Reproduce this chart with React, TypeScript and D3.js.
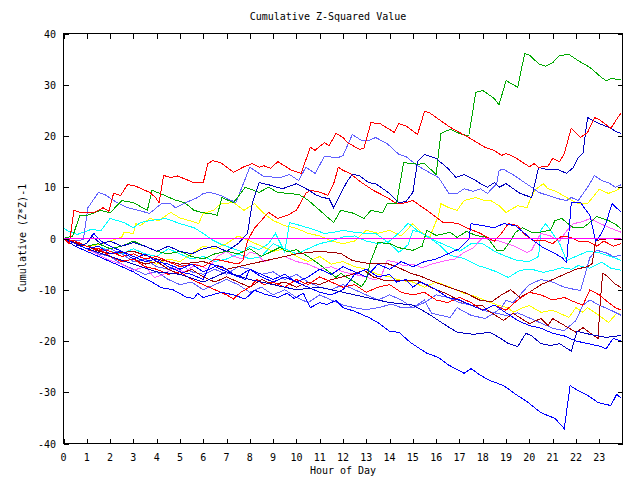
import React from 'react';
import * as d3 from 'd3';

type P = [number, number];

const title = 'Cumulative Z-Squared Value';
const xTitle = 'Hour of Day';
const yTitle = 'Cumulative (Z*Z)-1';
const xTicks = d3.range(0, 24);
const yTicks = [-40, -30, -20, -10, 0, 10, 20, 30, 40];

const greenTop: P[] = [[0,0],[0.4,0.5],[0.7,4.5],[1.0,4.5],[1.6,5.5],[2.0,5.0],[2.5,7.4],[3.0,7.0],[3.6,5.5],[3.8,9.4],[4.3,8.5],[4.8,7.5],[5.2,7.0],[5.6,5.5],[6.0,5.0],[6.3,4.9],[6.6,4.5],[6.8,8.0],[7.3,7.0],[7.8,10.0],[8.4,9.0],[8.8,10.0],[9.2,9.0],[10.1,8.6],[10.5,7.5],[11.0,5.5],[11.6,3.1],[11.9,5.5],[12.4,5.0],[12.9,3.9],[13.2,5.5],[13.7,5.0],[13.9,6.8],[14.3,6.8],[14.6,14.8],[15.2,14.5],[15.5,14.6],[16.0,12.5],[16.2,20.5],[16.6,21.3],[17.0,20.5],[17.4,20.0],[17.7,28.5],[18.0,28.9],[18.5,27.3],[18.7,26.1],[19.0,30.8],[19.5,29.5],[19.8,36.1],[20.0,35.8],[20.4,34.1],[20.7,33.6],[21.0,34.3],[21.3,35.7],[21.7,35.9],[22.1,34.7],[22.6,33.4],[23.1,31.4],[23.3,30.8],[23.5,31.2],[23.95,31]];
const redTop: P[] = [[0,0],[0.25,-1],[0.45,5.5],[0.8,5],[1.3,5],[1.7,6],[1.95,5.3],[2.15,8.8],[2.45,8.4],[2.75,10.5],[3.05,10.3],[3.3,9.8],[3.7,9.0],[3.95,8.0],[4.1,7.0],[4.3,12.3],[4.6,11.9],[4.9,12.2],[5.6,10.9],[6.0,10.9],[6.2,14.6],[6.4,15.2],[6.75,14.8],[7.3,12.9],[7.7,13.9],[8.1,14.6],[8.4,13.9],[8.6,14.2],[8.9,13.7],[9.2,15.0],[9.8,13.3],[10.2,12.7],[10.6,17.8],[10.8,17.2],[11.2,18.7],[11.4,18.1],[11.7,20.5],[12.0,19.7],[12.2,18.7],[12.7,17.4],[12.9,17.6],[13.2,22.6],[13.6,22.4],[14.2,20.7],[14.4,22.4],[14.7,22.0],[15.2,20.3],[15.5,24.8],[15.7,24.6],[16.0,23.6],[16.6,21.7],[17.4,19.7],[18.1,17.8],[18.5,17.2],[18.8,16.2],[19.0,16.6],[19.4,15.8],[20.0,14.0],[20.2,14.6],[20.4,13.9],[20.8,14.1],[21.0,15.6],[21.3,15.0],[21.5,16.6],[21.8,21.5],[22.2,19.7],[22.5,20.7],[22.8,23.6],[23.0,23.2],[23.5,21.5],[23.8,23.6],[23.95,24.6]];
const blueTop: P[] = [[0,0],[0.5,-1.5],[1.0,-1],[1.2,0.5],[1.6,-1.0],[2.0,-0.5],[2.5,-1.5],[3.0,-0.8],[3.5,-1.5],[4.0,-2.5],[4.5,-1.5],[5.0,-2.5],[5.5,-3],[6.0,-2],[6.5,-1.5],[7.0,-2.5],[7.5,-1],[7.9,1.0],[8.1,6.8],[8.4,10.9],[8.8,10.5],[9.4,9.7],[9.7,10.2],[10.0,10.7],[10.5,9.5],[10.8,8.6],[11.1,8.0],[11.4,7.8],[11.6,6.0],[11.9,8.8],[12.2,11.3],[12.4,12.5],[12.7,12.3],[13.1,10.9],[13.4,10.7],[14.0,8.8],[14.2,7.8],[14.4,7.0],[14.7,7.2],[15.0,9.0],[15.2,15.0],[15.5,16.4],[16.0,15.6],[16.5,13.7],[16.85,11.9],[17.2,12.5],[17.6,11.6],[17.9,10.7],[18.2,10.0],[18.5,10.9],[18.7,10.0],[19.0,10.7],[19.6,8.8],[20.1,8.0],[20.4,13.9],[20.8,13.4],[21.2,13.5],[21.6,12.7],[21.9,13.9],[22.1,15.8],[22.3,16.6],[22.5,23.6],[22.9,22.6],[23.4,21.7],[23.8,20.7],[23.95,20.5]];
const lightBlueTop: P[] = [[0,0],[0.5,-0.5],[0.85,-0.2],[1.05,6],[1.5,9],[1.8,8.5],[2.15,7.4],[2.75,6],[3.2,5.5],[3.7,4.9],[4.2,6.8],[4.6,6.8],[4.8,6.0],[5.45,7.4],[5.76,8.0],[6.0,8.8],[6.3,9.0],[6.75,8.4],[7.4,7.0],[8.0,13.9],[8.6,12.1],[9.3,11.9],[9.7,12.5],[10.1,11.3],[10.4,13.9],[10.8,12.7],[11.2,16.0],[11.8,15.8],[12.0,16.2],[12.4,20.3],[12.8,19.1],[13.1,19.1],[13.4,19.7],[13.9,18.5],[14.4,16.4],[14.7,16.0],[15.2,14.2],[15.7,12.9],[16.1,11.9],[16.55,8.8],[16.9,8.8],[17.2,9.7],[17.6,9.2],[17.9,9.7],[18.2,8.8],[18.6,10.7],[18.7,13.3],[18.9,13.5],[19.35,12.3],[19.8,10.9],[20.1,10.0],[20.4,9.0],[20.8,8.4],[21.2,7.8],[21.6,7.4],[21.8,8.0],[22.1,7.4],[22.5,10.0],[22.8,12.3],[23.1,11.3],[23.4,10.9],[23.7,10.0],[23.95,10.5]];
const yellowUpper: P[] = [[0,0],[0.5,-1],[1,-1.5],[1.5,-1.2],[2.0,-0.5],[2.5,0.3],[2.6,1.2],[3.0,1.0],[3.1,2.9],[3.3,2.5],[3.7,3.9],[4.1,3.5],[4.6,5.1],[5.0,4.0],[5.4,3.5],[5.8,2.9],[6.0,4.9],[6.45,5.5],[6.75,6.8],[7.3,7.0],[7.75,5.5],[8.2,6.8],[8.55,5.1],[9.0,3.5],[9.5,2.5],[10.0,2.0],[10.5,1.0],[11.0,0.5],[11.5,-0.5],[12.0,-1.0],[12.5,-0.5],[13.0,1.6],[13.5,1.0],[14.0,1.6],[14.5,0.5],[15.0,2.9],[15.3,1.5],[15.7,0],[16.1,4.5],[16.2,6.8],[16.55,6.0],[16.9,5.5],[17.2,7.4],[17.7,8.0],[18.0,7.5],[18.35,7.4],[18.7,6.4],[19.0,5.1],[19.5,6.4],[19.9,6.0],[20.1,8.4],[20.3,9.7],[20.6,10.7],[20.8,9.7],[21.1,9.3],[21.6,8.0],[22.1,6.8],[22.5,6.8],[23.0,9.6],[23.4,8.8],[23.7,9.3],[23.95,10]];
const bottomBlue: P[] = [[0,0],[0.5,-1.5],[1,-2.5],[1.5,-3.5],[2,-4.5],[2.5,-5.5],[3.0,-6.5],[3.4,-7.6],[3.8,-8.5],[4.2,-9.6],[4.7,-10],[5.3,-11.5],[5.6,-11.7],[5.75,-10.7],[6.0,-11.5],[6.3,-11.1],[6.8,-10.5],[7.3,-11],[7.8,-11.8],[8.2,-10.1],[8.6,-10.8],[9.2,-11.5],[9.6,-10.7],[9.9,-11.7],[10.3,-10.7],[10.6,-13.5],[11.0,-12.5],[11.3,-12.9],[11.7,-12.1],[12.0,-13.5],[12.5,-14.2],[13.1,-15.4],[13.5,-16.4],[14.0,-18.1],[14.4,-18.3],[14.9,-20.3],[15.6,-22.4],[16.1,-23.2],[16.5,-24.6],[17.2,-26.3],[17.5,-25.4],[17.9,-26.7],[18.3,-27.7],[18.9,-28.7],[19.35,-30.2],[19.95,-32],[20.5,-34],[21.1,-35.1],[21.5,-37.1],[21.75,-28.7],[21.95,-29.3],[22.5,-30.6],[22.95,-32],[23.5,-32.6],[23.75,-30.4],[23.95,-31.2]];
const blueB: P[] = [[0,0],[1,-2],[2,-3.5],[3,-5],[4,-6.5],[5,-7],[6,-8.5],[7,-6.5],[8,-8],[9,-9],[10,-10],[11,-9.5],[12,-10.5],[13,-11.5],[14,-12.5],[15,-13],[15.6,-14.5],[16.3,-16.6],[16.9,-18.3],[17.6,-18.7],[18.3,-18.3],[18.7,-19.3],[19.1,-20.5],[19.5,-21.1],[19.85,-18.5],[20.1,-19],[20.5,-20.5],[20.9,-20.9],[21.3,-20.5],[21.8,-22],[22.05,-18.1],[22.6,-18.7],[23.3,-19.3],[23.95,-18.9]];
const blueE: P[] = [[0,0],[0.5,-1.5],[1,-1],[1.3,1],[1.6,-0.5],[2,-1.5],[2.5,-2.5],[3,-3.5],[3.5,-4.5],[4,-4],[4.5,-5.5],[5,-6.5],[5.5,-7],[6,-8],[6.3,-5],[6.8,-5.5],[7.3,-7],[7.8,-8],[8,-6],[8.5,-7.5],[9,-8.5],[9.5,-7.5],[10,-8.5],[10.5,-9.5],[11,-10.5],[11.5,-11],[12,-10],[12.5,-7],[13,-6],[13.5,-7.5],[14,-7],[14.3,-8.5],[14.7,-8],[15,-9.5],[15.3,-8.5],[15.6,-9],[16,-10],[16.5,-11.5],[17,-12],[17.5,-13],[18,-14],[18.5,-13],[19,-14.5],[19.5,-16],[20,-17],[20.5,-17.5],[21,-18.5],[21.5,-19],[22,-20],[22.5,-20.5],[23,-21],[23.3,-21.5],[23.6,-19.5],[23.95,-20]];
const blueMid: P[] = [[0,0],[0.5,-1],[1,-2],[1.5,-1.5],[2,-3],[2.5,-2.5],[3,-4],[3.5,-3],[4,-4.5],[4.5,-5],[5,-6],[5.5,-5],[6,-6.5],[6.5,-5.5],[7,-6.5],[7.5,-7.5],[8,-6],[8.5,-7],[9,-8],[9.5,-7],[10,-8.5],[10.5,-7.5],[11,-6],[11.5,-7],[12,-5.5],[12.5,-6.5],[13,-7.5],[13.5,-5],[14,-6],[14.5,-4.5],[15,-5.5],[15.5,-4.5],[16,-4],[16.5,-3],[17,-2],[17.4,-0.2],[17.5,2.9],[18,2.5],[18.5,2.1],[18.9,2.9],[19.4,2.5],[19.8,1],[20.2,-0.5],[20.6,-1.8],[21,-2.7],[21.4,-3.7],[21.6,-4.7],[21.8,7.0],[22.2,7.0],[22.6,4.5],[22.85,-0.5],[23.1,1],[23.3,3.1],[23.55,6.8],[23.95,5.1]];
const darkRedJump: P[] = [[0,0],[0.5,-1],[1,-1.5],[1.5,-2.5],[2,-3],[2.5,-2.5],[3,-4],[3.5,-5],[4,-4.5],[4.5,-6],[5,-7],[5.5,-6],[6,-7.5],[6.5,-8.5],[7,-7.5],[7.5,-8.5],[8,-9.5],[8.5,-8],[9,-9],[9.5,-8.5],[10,-9.5],[10.5,-8.5],[11,-9],[11.5,-8],[11.9,-7.6],[12.4,-7],[12.9,-6.2],[13.3,-7.5],[13.8,-8.2],[14.5,-8.2],[15.2,-8.2],[15.8,-9.6],[16.4,-10.7],[17,-12.1],[17.5,-13],[18,-13.1],[18.2,-14],[18.9,-16],[19.3,-14.6],[20,-16.6],[20.5,-15.6],[20.8,-17],[21,-15.6],[22,-18.3],[22.3,-17.4],[22.75,-18.9],[22.95,-19.5],[23.05,-12],[23.15,-6.8],[23.3,-7.2],[23.65,-8.8],[23.95,-9.6]];
const darkRed2: P[] = [[0,0],[1,-1.5],[2,-3],[3,-2.5],[4,-4],[5,-5],[6,-4.5],[7,-6],[8,-5],[9,-4],[10,-3],[11,-2.5],[11.9,-2.9],[12.4,-4.3],[13,-4.8],[13.9,-4.9],[14.3,-5.5],[14.9,-6.8],[15.3,-7.3],[16.0,-8.6],[16.6,-9.6],[17.3,-10.7],[17.9,-12.1],[18.4,-12.3],[18.8,-11],[19.2,-10],[19.6,-11.5],[20,-10.5],[20.5,-9],[21,-8],[21.5,-7],[22,-6],[22.5,-5.5],[22.7,-4.9],[22.85,-0.4],[23.1,-0.2],[23.5,0],[23.95,-0.3]];
const yellowLower: P[] = [[0,0],[0.5,-1],[1,-2],[1.5,-1.5],[2,-2.5],[2.5,-3.5],[3,-3],[3.5,-4],[4,-5],[4.5,-4],[5,-4.5],[5.5,-3],[6,-1.5],[6.5,-2],[7,-1],[7.5,0.5],[8,-0.5],[8.5,-1.5],[9,-2.5],[9.5,-2],[10,-3.5],[10.5,-4.5],[11,-3.5],[11.5,-5],[12,-4.5],[12.5,-5.5],[13,-6],[13.5,-7],[14,-7.5],[14.5,-8.2],[15,-8.5],[15.5,-9.5],[16,-8.5],[16.6,-9.5],[17.2,-10.7],[17.7,-11.3],[18.1,-12.1],[18.7,-13.1],[19.1,-13.5],[19.3,-14.4],[19.7,-13.5],[20,-13.1],[20.5,-14.4],[21,-14],[21.7,-15.4],[22,-13.5],[22.3,-14.4],[22.5,-13.5],[23,-15],[23.4,-16.4],[23.75,-14.6],[23.95,-14.8]];
const greenMid: P[] = [[0,0],[0.5,-0.8],[1,-1.5],[1.5,-1],[2,-2],[2.5,-1.5],[3,-0.5],[3.5,-1.5],[4,-2.5],[4.5,-3],[5,-2.5],[5.5,-3.5],[6,-4],[6.5,-3],[7,-2.5],[7.5,-3],[8,-2],[8.5,-3.5],[9.3,-1.7],[9.6,-2.6],[10.0,-2.2],[10.5,-3.5],[11.0,-5.1],[11.7,-7.6],[11.9,-6.8],[12.4,-8.2],[12.8,-9.4],[13.0,-8],[13.2,-4.3],[13.5,-0.8],[14.0,-1],[14.4,-1.8],[15.0,-2.3],[15.4,-1.5],[15.6,1.6],[16.0,0.6],[16.6,1.2],[16.9,0.2],[17.3,1.4],[17.7,0.6],[18.2,0.2],[18.6,-2.3],[18.9,-2.3],[19.2,-0.4],[19.4,1.2],[19.7,2.1],[20.1,1.2],[20.4,1.2],[20.9,1.6],[21.1,3.5],[21.4,3.9],[21.6,3.1],[21.9,2.1],[22.3,2.1],[22.7,3.5],[22.9,4.3],[23.4,3.5],[23.7,2.8],[23.95,1.8]];
const cyanA: P[] = [[0,2],[0.3,1.2],[0.6,0.8],[1.2,1.8],[1.6,1.5],[2.0,3.9],[2.6,3.1],[3.0,2.1],[3.3,3.1],[3.7,3.5],[4.4,3.9],[5.0,2.9],[5.6,2.1],[6.0,1.0],[6.4,-0.3],[6.8,-1.2],[7.3,-2],[7.7,-2.6],[8.0,-1.5],[8.4,-2.2],[8.8,-1],[9.1,1],[9.3,-0.8],[9.5,-2.7],[9.7,3.1],[10.2,2.5],[10.7,1.8],[11.2,1.0],[11.6,1.2],[12.0,1.6],[12.5,1.2],[13.0,1.0],[13.4,1],[13.8,-0.3],[14.1,-1.4],[14.4,-2.7],[14.8,-1.2],[15.0,1.6],[15.3,1.2],[15.7,0.2],[16.2,-1.5],[16.6,-3.3],[17.2,-3.9],[17.8,-5.3],[18.1,-5.7],[18.6,-6.5],[19.1,-7.6],[19.6,-6.2],[20.1,-6.0],[20.6,-6.6],[21.0,-6.2],[21.4,-5.7],[21.8,-6.0],[22.1,-5.3],[22.6,-5.8],[23.1,-4.6],[23.5,-5.8],[23.95,-6.2]];
const cyanB: P[] = [[0,0],[0.5,-1],[1,-2],[1.5,-1.5],[2,-2.5],[2.5,-3],[3,-2],[3.5,-3],[4,-3.5],[4.5,-2],[5,-3],[5.5,-4],[6,-3.5],[6.5,-4.5],[7,-4],[7.5,-3],[8,-4],[8.5,-3.5],[9,-1],[9.5,-2],[10,-3],[10.5,-2],[11,-1],[11.5,-0.5],[12,0.3],[12.5,0.5],[13,-0.5],[13.5,-1],[14,-0.5],[14.5,1.5],[14.8,3],[15.2,1.5],[15.6,0.5],[16,-0.5],[16.5,-1.5],[17,-2.5],[17.5,-1],[18,-1],[18.5,-2.5],[19,-3.5],[19.5,-4.3],[20,-4.5],[20.4,-3.5],[20.5,1.7],[20.7,2.9],[21,1],[21.3,-1],[21.6,-4.3],[22,-3.5],[22.5,-2.5],[23,-2.8],[23.5,-3.5],[23.95,-4.3]];
const pink: P[] = [[0,0],[1,-2],[2,-4.3],[2.5,-5],[3,-6.2],[3.5,-5.5],[3.9,-7.6],[4.3,-7],[4.7,-5.8],[5.2,-6.5],[5.7,-5],[6.2,-6],[6.6,-3.5],[7.0,-2.5],[7.3,-3.5],[7.7,-4],[8.0,-2.7],[8.3,-3],[8.6,-4.5],[9,-4],[9.5,-3.5],[10,-4.5],[10.5,-5],[11,-6],[11.5,-5.5],[12,-6.5],[12.5,-7],[13,-7.5],[13.3,-8],[13.6,-7.8],[13.9,-4.3],[14.2,-4.5],[14.6,-5.3],[15.0,-5.0],[15.4,-5.7],[15.8,-5.0],[16.4,-4.3],[16.8,-4.0],[17.2,-2.7],[17.6,-1.8],[18.0,0.2],[18.3,-0.3],[18.7,-0.5],[19.3,-1.4],[19.9,-2.7],[20.1,-2.3],[20.3,-0.5],[20.5,1.0],[20.9,0.5],[21.3,-0.5],[21.6,1.5],[21.9,2.9],[22.3,3.3],[22.6,3.9],[23.0,3.0],[23.5,2.0],[23.95,1.2]];
const redB: P[] = [[0,0],[0.5,-0.5],[1,-1.5],[1.5,-2],[2,-2.5],[2.5,-3.5],[3,-3],[3.5,-4],[4,-3.5],[4.5,-4.5],[5,-5.5],[5.5,-5],[6,-5.5],[6.5,-4],[7,-4.5],[7.5,-5],[7.7,-4.3],[7.9,-0.4],[8.2,2],[8.8,5.1],[9.2,3.9],[9.6,4.5],[10.0,5.5],[10.4,8.8],[10.6,9.4],[11.05,9],[11.35,8.4],[11.6,10.7],[11.8,13.9],[12.0,13.3],[12.3,12.7],[12.8,10.9],[13.3,9.4],[13.9,8],[14.3,6.8],[14.6,6.9],[15.0,7.4],[15.6,5.5],[16.3,3.1],[16.9,3.0],[17.3,2.1],[17.9,1.0],[18.2,0.2],[18.5,-0.5],[18.8,1.0],[19.1,2.9],[19.5,2.5],[19.8,0.8],[20.2,-0.5],[20.6,-0.3],[21.0,-1],[21.4,0.5],[21.8,0.2],[22.1,-0.5],[22.5,-0.5],[22.9,-1.5],[23.2,-0.5],[23.6,-1.5],[23.95,-1]];
const redLow: P[] = [[0,0],[0.5,-1.5],[1,-2.5],[1.5,-2],[2,-3.5],[2.5,-4.5],[3,-4],[3.5,-5.5],[4,-6],[4.5,-7],[5,-6.5],[5.5,-8],[6,-9],[6.5,-10],[7,-11],[7.3,-11.8],[7.6,-10.5],[8,-9.5],[8.3,-8],[8.6,-9],[9,-8.5],[9.5,-9.5],[10,-8],[10.5,-9],[11,-7.5],[11.5,-8.5],[12,-9.5],[12.5,-9],[13,-10.5],[13.5,-9.5],[14,-9],[14.5,-10.5],[15,-11],[15.5,-10.5],[16,-12],[16.5,-12.5],[17,-11.5],[17.5,-12.5],[18,-14],[18.5,-13],[19,-14],[19.5,-12],[20,-10.5],[20.5,-11],[21,-12],[21.5,-11.5],[22,-12.5],[22.3,-13],[22.6,-10],[23,-11],[23.4,-12.5],[23.7,-13.5],[23.95,-14]];
const lightBlueLow: P[] = [[0,0],[0.5,-1],[1,-2],[1.5,-3],[2,-3.5],[2.5,-5],[3,-6],[3.5,-7],[4,-6.5],[4.5,-8],[5,-9],[5.5,-8.5],[6,-10],[6.5,-9],[7,-8],[7.5,-9],[8,-10.5],[8.5,-9.5],[9,-11],[9.5,-10],[10,-11.5],[10.5,-12.5],[11,-11],[11.5,-12],[12,-13],[12.5,-13.5],[13,-13.9],[13.5,-13.5],[14.1,-12.8],[14.5,-13.5],[15,-13.5],[15.5,-12],[15.8,-14.6],[16.6,-15.4],[16.9,-13.5],[17.5,-15],[18.1,-15.6],[18.5,-14.5],[18.8,-13.5],[19.0,-12.1],[19.3,-12.5],[19.6,-11],[20,-9],[20.5,-8],[21,-8.5],[21.5,-9.5],[22,-10],[22.2,-10.1],[22.6,-3.7],[22.9,-2.3],[23.3,-2.8],[23.6,-3.5],[23.95,-3.3]];
const lightBlueMid: P[] = [[0,0],[0.5,-0.5],[1,-1.5],[1.5,-2.5],[2,-2],[2.5,-3],[3,-4.5],[3.5,-4],[4,-5.5],[4.5,-6],[5,-5],[5.5,-6.5],[6,-7],[6.5,-6],[7,-7],[7.5,-5.5],[8,-6],[8.5,-7],[9,-6.5],[9.5,-8],[10,-7],[10.5,-8.5],[11,-9.5],[11.5,-10],[12,-9],[12.5,-10],[13,-11],[13.5,-12],[14,-11],[14.5,-12],[15,-13.5],[15.5,-12.5],[16,-11],[16.5,-11.5],[17,-12.5],[17.5,-13],[18,-14],[18.5,-14.5],[19,-15],[19.5,-14.5],[20,-15.5],[20.5,-16.5],[21,-17.5],[21.5,-18],[22,-16],[22.3,-13],[22.6,-12],[23,-13],[23.5,-14],[23.95,-15]];
const zeroLine: P[] = [[0,0],[23.95,0]];

const RED = '#ff0000';
const DARKRED = '#a00000';
const GREEN = '#00a800';
const BLUE = '#0000ff';
const DARKBLUE = '#0000c0';
const LIGHTBLUE = '#6060ff';
const YELLOW = '#ffff00';
const CYAN = '#00ffff';
const MAGENTA = '#ff00ff';
const PINK = '#ff60ff';

const series: { data: P[]; color: string }[] = [
  { data: yellowUpper, color: YELLOW },
  { data: yellowLower, color: YELLOW },
  { data: cyanA, color: CYAN },
  { data: cyanB, color: CYAN },
  { data: lightBlueMid, color: LIGHTBLUE },
  { data: lightBlueLow, color: LIGHTBLUE },
  { data: lightBlueTop, color: LIGHTBLUE },
  { data: pink, color: PINK },
  { data: greenMid, color: GREEN },
  { data: darkRed2, color: DARKRED },
  { data: darkRedJump, color: DARKRED },
  { data: redLow, color: RED },
  { data: redB, color: RED },
  { data: blueE, color: BLUE },
  { data: blueB, color: DARKBLUE },
  { data: blueMid, color: BLUE },
  { data: bottomBlue, color: BLUE },
  { data: greenTop, color: GREEN },
  { data: blueTop, color: DARKBLUE },
  { data: redTop, color: RED },
  { data: zeroLine, color: MAGENTA },
];

const L = 63.5, R = 622.5, T = 33.5, B = 443.5;
const FONT = '"DejaVu Sans Mono", monospace';

export default function App() {
  const x = d3.scaleLinear().domain([0, 24]).range([L, R]);
  const y = d3.scaleLinear().domain([-40, 40]).range([B, T]);
  const line = d3.line<P>().x(d => x(d[0])).y(d => y(d[1]));
  return (
    <svg width={640} height={480} style={{ position: 'absolute', left: 0, top: 0, background: '#fff' }}>
      <rect x={0} y={0} width={640} height={480} fill="#fff" />
      <g shapeRendering="crispEdges">
        {series.map((s, i) => (
          <path key={i} d={line(s.data) || ''} fill="none" stroke={s.color} strokeWidth={1} />
        ))}
      </g>
      <g shapeRendering="crispEdges" stroke="#000" strokeWidth={1}>
        <rect x={L} y={T} width={R - L} height={B - T} fill="none" />
        {xTicks.map(t => (
          <g key={'x' + t}>
            <line x1={Math.round(x(t)) + 0.5} x2={Math.round(x(t)) + 0.5} y1={B} y2={B - 5} />
            <line x1={Math.round(x(t)) + 0.5} x2={Math.round(x(t)) + 0.5} y1={T} y2={T + 5} />
          </g>
        ))}
        {yTicks.map(t => (
          <g key={'y' + t}>
            <line x1={L} x2={L + 5} y1={Math.round(y(t)) + 0.5} y2={Math.round(y(t)) + 0.5} />
            <line x1={R} x2={R - 5} y1={Math.round(y(t)) + 0.5} y2={Math.round(y(t)) + 0.5} />
          </g>
        ))}
      </g>
      <g fontFamily={FONT} fontSize={10} fill="#000">
        {xTicks.map(t => (
          <text key={'xl' + t} x={x(t)} y={461} textAnchor="middle">{t}</text>
        ))}
        {yTicks.map(t => (
          <text key={'yl' + t} x={56} y={y(t) + 4} textAnchor="end">{t}</text>
        ))}
        <text x={328} y={20} textAnchor="middle">{title}</text>
        <text x={343} y={474} textAnchor="middle">{xTitle}</text>
        <text transform={`translate(26,238) rotate(-90)`} textAnchor="middle">{yTitle}</text>
      </g>
    </svg>
  );
}
